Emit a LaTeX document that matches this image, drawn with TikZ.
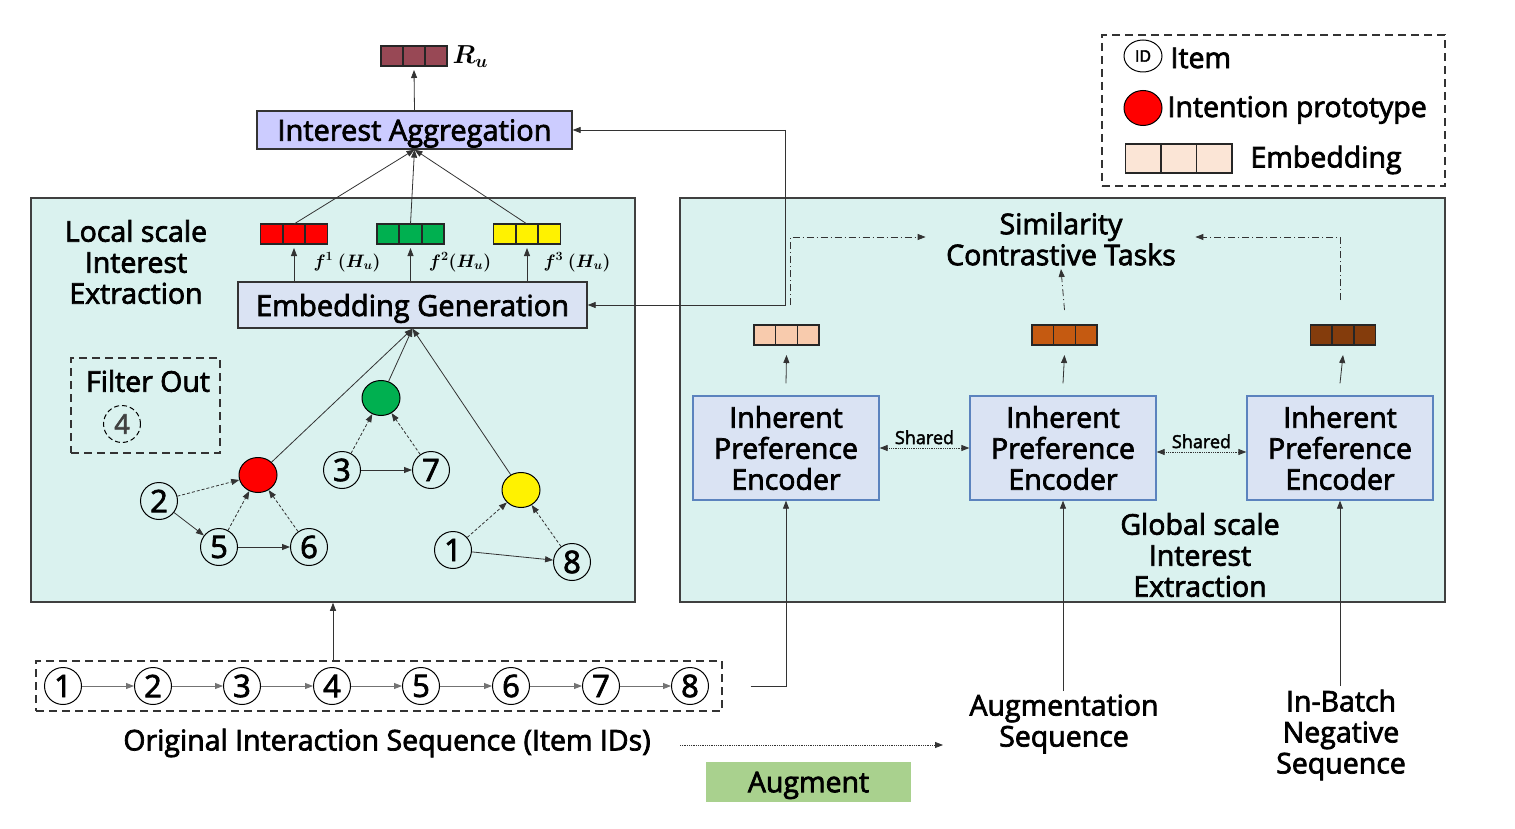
\RequirePackage{fix-cm}
\documentclass[tikz,border=0pt]{standalone}
\usepackage{fontspec}
\setmainfont{Open Sans}[FakeBold=2.5]
\usepackage{bm}
\usetikzlibrary{arrows.meta,shapes.geometric,positioning}

\definecolor{panelbg}{HTML}{DAF2EF}
\definecolor{aggfill}{HTML}{CCCCFF}
\definecolor{egfill}{HTML}{DAE3F3}
\definecolor{encborder}{HTML}{5B83BE}
\definecolor{augfill}{HTML}{A9D18E}
\definecolor{rucol}{HTML}{984855}
\definecolor{pgreen}{HTML}{00B050}
\definecolor{peach}{HTML}{FBE5D6}
\definecolor{vlight}{HTML}{F8CBAD}
\definecolor{vmid}{HTML}{C55A11}
\definecolor{vdark}{HTML}{843C0C}

\begin{document}
\begin{tikzpicture}[x=1pt,y=-1pt,
        >={Triangle[length=8pt,width=6pt]},
        every node/.style={font=\fontsize{28.5}{31}\selectfont, align=center},
        panel/.style={draw=black!75, line width=1.5pt, fill=panelbg, inner sep=0pt},
        title/.style={draw=black!80, line width=1.3pt, minimum height=38pt, inner sep=0pt, text depth=0pt, font=\fontsize{29}{31}\selectfont},
        encoder/.style={draw=encborder, line width=1.3pt, fill=egfill, minimum width=186pt, minimum height=104pt, inner sep=0pt},
        item/.style={draw, line width=1pt, circle, minimum size=37pt, inner sep=0pt, font=\fontsize{31}{31}\selectfont},
        proto/.style={draw, line width=1pt, ellipse, minimum width=38pt, minimum height=35pt, inner sep=0pt},
        cell/.style={draw=black!85, line width=1.5pt, minimum width=22pt, minimum height=20pt, inner sep=0pt, outer sep=0pt},
        link/.style={draw=black!80, line width=0.8pt},
        soft/.style={link, densely dashed},
        dd/.style={link, dash pattern=on 7pt off 3pt on 1pt off 3pt},
        dashbox/.style={draw=black!80, line width=1.3pt, dash pattern=on 8pt off 5pt, inner sep=0pt}]
    \useasboundingbox (0,0) rectangle (1515,829);

    % Panels
    \node[panel, minimum width=604pt, minimum height=404pt] (local) at (333,400) {};
    \node[panel, minimum width=765pt, minimum height=404pt] (global) at (1062.5,400) {};

    % Legend
    \node[dashbox, minimum width=343pt, minimum height=151pt] (legend) at (1273.5,110.5) {};
    \node[draw, line width=1pt, ellipse, minimum width=38pt, minimum height=32pt, inner sep=0pt,
          font=\fontsize{16}{16}\selectfont] (legid) at (1143,56) {ID};
    \node[anchor=west] (legitem) at (1167,58) {Item};
    \node[proto, fill=red] (legproto) at (1143,108) {};
    \node[anchor=west] (legprotolab) at (1164,110) {Intention prototype};
    \foreach \k in {1,2,3} {
        \node[cell, fill=peach, minimum width=35.5pt, minimum height=29pt] (legc\k) at ({1107.5+35.5*\k},158.5) {};
    }
    \node[anchor=west] (legemb) at (1247,160) {Embedding};

    % Aggregation and user representation
    \node[title, fill=aggfill, minimum width=315pt] (agg) at (414.5,130) {Interest Aggregation};
    \foreach \k in {1,2,3} {
        \node[cell, fill=rucol] (ru\k) at ({370+22*\k},56) {};
    }
    \node[anchor=west, font=\fontsize{26}{26}\selectfont] (rulab) at (449,57) {$\bm{R_u}$};
    \draw[link,->] (agg.north) -- ([yshift=-4pt]ru2.south);

    % Local scale part
    \node (localtxt) at (136,262) {Local scale\\Interest\\Extraction};
    \node[title, fill=egfill, minimum width=349pt, minimum height=46pt] (eg) at (412.5,305) {Embedding Generation};
    \foreach \v/\x/\col in {red/294/red, green/410.5/pgreen, yellow/527/yellow} {
        \foreach \k in {1,2,3} {
            \node[cell, fill=\col] (\v\k) at ({\x+22.5*(\k-2)},234) {};
        }
        \draw[link,->] (eg.north -| \v2) -- ([yshift=-4pt]\v2.south);
        \draw[link,->] (\v2.north) -- (agg.south);
    }
    \node[font=\fontsize{18}{18}\selectfont] (f1) at (347,262) {$\bm{f^{1}\ (H_u)}$};
    \node[font=\fontsize{18}{18}\selectfont] (f2) at (460,262) {$\bm{f^{2}(H_u)}$};
    \node[font=\fontsize{18}{18}\selectfont] (f3) at (577,262) {$\bm{f^{3}\ (H_u)}$};

    % Filtered item
    \node[dashbox, minimum width=149pt, minimum height=95pt] (filter) at (145.5,405.5) {};
    \node (filtertxt) at (148,381) {Filter Out};
    \node[item, dash pattern=on 5pt off 3pt, text=black!75, font=\fontsize{27}{27}\selectfont] (f4) at (122,424) {4};

    % Item graph and prototypes
    \foreach \n/\x/\y in {2/159/501, 5/219/547, 6/309/547, 3/342/470, 7/431/470, 1/453/550, 8/572/562} {
        \node[item] (g\n) at (\x,\y) {\n};
    }
    \node[proto, fill=red] (pred) at (258,475) {};
    \node[proto, fill=pgreen] (pgreen) at (381,398) {};
    \node[proto, fill=yellow] (pyellow) at (521,490) {};
    \foreach \a/\b in {g2/g5, g5/g6, g3/g7, g1/g8} {
        \draw[link,->] (\a) -- (\b);
    }
    \foreach \a/\b in {g2/pred, g5/pred, g6/pred, g3/pgreen, g7/pgreen, g1/pyellow, g8/pyellow} {
        \draw[soft,->] (\a) -- (\b);
    }
    \foreach \p in {pred, pgreen, pyellow} {
        \draw[link,->] (\p) -- (eg.south);
    }

    % Feedback line
    \coordinate (junc) at (785,130);
    \draw[link,->] (junc) -- (agg.east);
    \draw[link,->] (junc) |- (eg.east);

    % Original sequence
    \node[dashbox, minimum width=686pt, minimum height=50pt] (seqbox) at (379,686) {};
    \foreach \n/\x in {1/63, 2/153, 3/242, 4/332, 5/421, 6/511, 7/601, 8/690} {
        \node[item] (s\n) at (\x,686) {\n};
    }
    \foreach \a/\b in {1/2, 2/3, 3/4, 4/5, 5/6, 6/7, 7/8} {
        \draw[link, draw=black!55, ->] (s\a) -- (s\b);
    }
    \node (orig) at (387,743) {Original Interaction Sequence (Item IDs)};
    \draw[link,->] (local.south |- seqbox.north) -- (local.south);

    % Augmentation
    \coordinate (augfrom) at (680,745);
    \coordinate (augto) at (943,745);
    \draw[link, densely dotted, ->] (augfrom) -- (augto);
    \node[fill=augfill, minimum width=205pt, minimum height=40pt, inner sep=0pt, text depth=0pt] (augment) at (808.5,782) {Augment};

    % Global scale part
    \node (globaltxt) at (1200,555) {Global scale\\Interest\\Extraction};
    \foreach \n/\x in {1/786, 2/1063, 3/1340} {
        \node[encoder] (enc\n) at (\x,448) {Inherent\\Preference\\Encoder};
    }
    \foreach \v/\x/\col in {va/786.5/vlight, vb/1064.5/vmid, vc/1343/vdark} {
        \foreach \k in {1,2,3} {
            \node[cell, fill=\col, minimum width=21.7pt] (\v\k) at ({\x+21.7*(\k-2)},335) {};
        }
    }
    \draw[link,->] ([yshift=12pt]enc1.north) -- ([yshift=-10pt]va2.south);
    \draw[link,->] ([yshift=12pt]enc2.north) -- ([yshift=-10pt]vb2.south);
    \draw[link,->] ([yshift=12pt]enc3.north) -- ([yshift=-10pt]vc2.south);
    \draw[link, densely dotted, <->] (enc1) -- node[above, font=\fontsize{18}{18}\selectfont] (shared1) {Shared} (enc2);
    \draw[link, densely dotted, <->] ([yshift=-4pt]enc2.east) -- node[above, font=\fontsize{18}{18}\selectfont] (shared2) {Shared} ([yshift=-4pt]enc3.west);

    % Contrastive tasks
    \node (sim) at (1061,239) {Similarity\\Contrastive Tasks};
    \draw[dd,->] ([yshift=15pt]vb2.north) -- (sim.south);
    \draw[dd,->] ([xshift=4pt,yshift=20pt]va2.north) |- ([xshift=-17pt,yshift=2pt]sim.west);
    \draw[dd,->] ([xshift=-3pt,yshift=25pt]vc2.north) |- ([xshift=16pt,yshift=2pt]sim.east);

    % Input sequences
    \draw[link,->] ([xshift=28pt]seqbox.east) -| (enc1.south);
    \node (augseq) at (1064,724) {Augmentation\\Sequence};
    \draw[link,->] (augseq.north -| enc2.south) -- (enc2.south);
    \node (negseq) at (1341,735) {In-Batch\\Negative\\Sequence};
    \draw[link,->] (negseq.north -| enc3.south) -- (enc3.south);
\end{tikzpicture}
\end{document}
